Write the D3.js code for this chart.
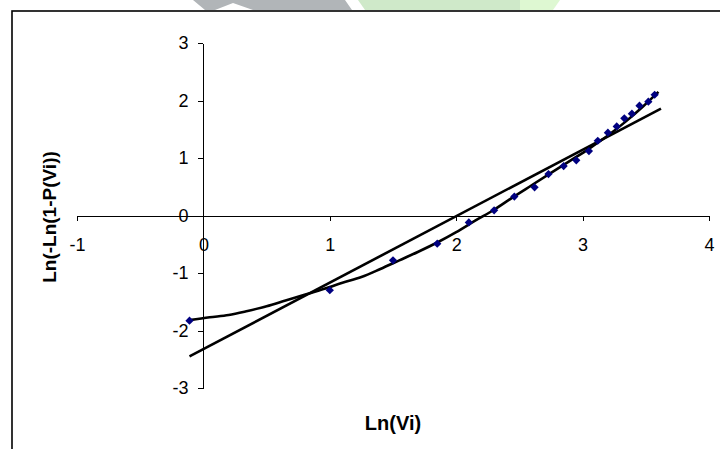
<!DOCTYPE html>
<html>
<head>
<meta charset="utf-8">
<script src="https://cdn.jsdelivr.net/npm/d3@7"></script>
<style>
  body { margin: 0; background: #fff; }
  text { font-family: "Liberation Sans", Arial, sans-serif; fill: #000; }
  .axis path, .axis line { stroke: #000; stroke-width: 1; shape-rendering: crispEdges; }
</style>
</head>
<body>
<svg id="chart" width="720" height="449"></svg>
<script>
// observed points: Ln(Vi) vs Ln(-Ln(1-P(Vi)))
var lnV  = [-0.11, 1.00, 1.50, 1.85, 2.10, 2.30, 2.46, 2.62, 2.73, 2.85, 2.95, 3.05, 3.12, 3.20, 3.27, 3.33, 3.39, 3.45, 3.52, 3.57];
var lnLn = [-1.83, -1.30, -0.78, -0.49, -0.12, 0.09, 0.33, 0.49, 0.72, 0.86, 0.96, 1.12, 1.30, 1.44, 1.55, 1.69, 1.77, 1.91, 1.98, 2.10];

// straight fit line ends
var fitX = [-0.11, 3.62];
var fitY = [-2.45, 1.86];

// curved fit
var curveX = [-0.11, 0.05, 0.20, 0.35, 0.50, 0.65, 0.80, 0.95, 1.10, 1.25, 1.40, 1.55, 1.70, 1.85, 2.00, 2.15, 2.30, 2.45, 2.60, 2.75, 2.90, 3.05, 3.20, 3.35, 3.48, 3.60];
var curveY = [-1.82, -1.77, -1.73, -1.66, -1.58, -1.48, -1.38, -1.28, -1.17, -1.07, -0.93, -0.78, -0.63, -0.47, -0.29, -0.09, 0.10, 0.32, 0.53, 0.74, 0.95, 1.16, 1.39, 1.65, 1.90, 2.15];

var xTicks = [-1, 0, 1, 2, 3, 4];
var yTicks = [-3, -2, -1, 0, 1, 2, 3];

var svg = d3.select("#chart");

// faint watermark at the top edge
svg.append("polygon")
  .attr("points", "193,0 345,0 352,10 253,10 233,3 215,10 205,10")
  .attr("fill", "#b1b5b8");
svg.append("polygon")
  .attr("points", "358,0 520,0 520,10 365,10")
  .attr("fill", "#cfe9c9");
svg.append("polygon")
  .attr("points", "520,0 560,0 553,10 520,10")
  .attr("fill", "#def8d2");

// chart frame (runs off the right and bottom)
svg.append("rect")
  .attr("x", 12).attr("y", 11)
  .attr("width", 730).attr("height", 460)
  .attr("fill", "none").attr("stroke", "#000").attr("stroke-width", 1.6);

var x = d3.scaleLinear().domain([-1, 4]).range([77, 709]);
var y = d3.scaleLinear().domain([-3, 3]).range([388, 43]);

var xAxis = d3.axisBottom(x).tickValues(xTicks).tickSize(5).tickSizeOuter(0).tickPadding(18)
  .tickFormat(d3.format("d"));
var yAxis = d3.axisLeft(y).tickValues(yTicks).tickSize(5).tickSizeOuter(0).tickPadding(10)
  .tickFormat(d3.format("d"));

svg.append("g").attr("class", "axis")
  .attr("transform", "translate(0," + y(0) + ")")
  .call(xAxis);
svg.append("g").attr("class", "axis")
  .attr("transform", "translate(" + x(0) + ",0)")
  .call(yAxis);

svg.selectAll(".axis text")
  .attr("font-family", "Liberation Sans, Arial, sans-serif")
  .attr("font-size", 18)
  .attr("fill", "#000")
  .text(function(d){ return d < 0 ? "-" + Math.abs(d) : d; });

// lines
var line = d3.line()
  .x(function(d){ return x(d[0]); })
  .y(function(d){ return y(d[1]); });

svg.append("path")
  .datum(fitX.map(function(v, i){ return [v, fitY[i]]; }))
  .attr("d", line)
  .attr("fill", "none").attr("stroke", "#000").attr("stroke-width", 2.6);

svg.append("path")
  .datum(curveX.map(function(v, i){ return [v, curveY[i]]; }))
  .attr("d", line.curve(d3.curveMonotoneX))
  .attr("fill", "none").attr("stroke", "#000").attr("stroke-width", 2.6);

// markers
var diamond = d3.symbol().type(d3.symbolSquare).size(34);
svg.selectAll(".pt")
  .data(lnV.map(function(v, i){ return [v, lnLn[i]]; }))
  .enter().append("path")
  .attr("class", "pt")
  .attr("d", diamond)
  .attr("transform", function(d){ return "translate(" + x(d[0]) + "," + y(d[1]) + ") rotate(45)"; })
  .attr("fill", "#000080");

// axis titles
svg.append("text")
  .attr("x", 393).attr("y", 430)
  .attr("text-anchor", "middle")
  .attr("font-size", 20).attr("font-weight", "bold")
  .text("Ln(Vi)");

svg.append("text")
  .attr("transform", "translate(56,217) rotate(-90)")
  .attr("text-anchor", "middle")
  .attr("font-size", 19).attr("font-weight", "bold")
  .text("Ln(-Ln(1-P(Vi))");
</script>
</body>
</html>
